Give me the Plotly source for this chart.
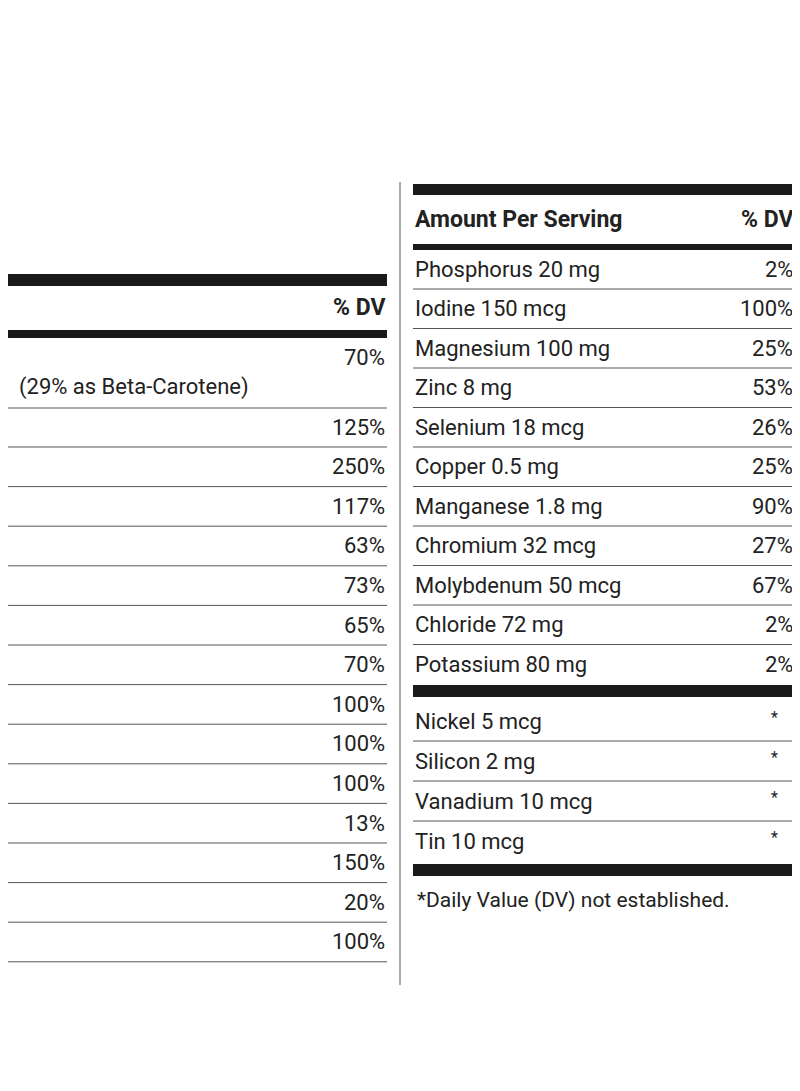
import plotly.graph_objects as go

left_names = ["Vitamin C 75 mg","Vitamin D 1,000 IU","Vitamin E 35 IU","Vitamin K 50 mcg",
              "Thiamin 1.1 mg","Riboflavin 1.1 mg","Niacin 14 mg","Vitamin B<sub>6</sub> 2 mg",
              "Folic Acid 400 mcg","Vitamin B<sub>12</sub> 6 mcg","Biotin 40 mcg",
              "Pantothenic Acid 15 mg","Calcium 200 mg","Iron 18 mg"]
left_dv = ["125%","250%","117%","63%","73%","65%","70%","100%","100%","100%","13%","150%","20%","100%"]
right_names = ["Phosphorus 20 mg","Iodine 150 mcg","Magnesium 100 mg","Zinc 8 mg","Selenium 18 mcg",
               "Copper 0.5 mg","Manganese 1.8 mg","Chromium 32 mcg","Molybdenum 50 mcg",
               "Chloride 72 mg","Potassium 80 mg"]
right_dv = ["2%","100%","25%","53%","26%","25%","90%","27%","67%","2%","2%"]
star_names = ["Nickel 5 mcg","Silicon 2 mg","Vanadium 10 mcg","Tin 10 mcg"]

FONT = "Roboto, Liberation Sans, Arial"
fig = go.Figure()
shapes, ann = [], []

def text(x, y, s, size=22, anchor="left", bold=False, family=FONT):
    ann.append(dict(x=x, y=y, xref="x", yref="y", text=f"<b>{s}</b>" if bold else s,
                    showarrow=False, xanchor=anchor, yanchor="middle",
                    font=dict(family=family, size=size, color="#222")))

def bar(x0, x1, y0, y1):
    shapes.append(dict(type="rect", x0=x0, x1=x1, y0=y0, y1=y1, xref="x", yref="y",
                       fillcolor="#1a1a1a", line_width=0))

def line(x0, x1, y):
    shapes.append(dict(type="line", x0=x0, x1=x1, y0=y, y1=y, xref="x", yref="y",
                       line=dict(color="#555", width=1)))

LX0, LX1 = 5, 387
RX0, RX1 = 413, 795
# Left column
text(LX0, 201, "Supplement Facts", size=40, bold=True, family="Liberation Sans, Arial")
text(LX0, 248, "Serving Size 1 Tablet", size=23)
bar(LX0, LX1, 274, 286)
text(LX0, 307, "Amount Per Serving", size=23, bold=True)
text(LX1, 307, "% DV", size=23, bold=True, anchor="right")
bar(LX0, LX1, 330, 338)
text(LX0, 357, "Vitamin A 3,500 IU")
text(LX1, 357, "70%", anchor="right")
text(LX0 + 12, 387, "(29% as Beta-Carotene)")
line(LX0, LX1, 408)
for i, (n, d) in enumerate(zip(left_names, left_dv)):
    y = 427 + i * 39.6
    text(LX0, y, n)
    text(LX1, y, d, anchor="right")
    line(LX0, LX1, y + 20)

# Divider
shapes.append(dict(type="line", x0=400, x1=400, y0=182, y1=985, xref="x", yref="y",
                   line=dict(color="#555", width=1)))

# Right column
bar(RX0, RX1, 184, 195)
text(RX0, 219, "Amount Per Serving", size=23, bold=True)
text(RX1, 219, "% DV", size=23, bold=True, anchor="right")
bar(RX0, RX1, 244, 250)
for i, (n, d) in enumerate(zip(right_names, right_dv)):
    y = 269 + i * 39.5
    text(RX0, y, n)
    text(RX1, y, d, anchor="right")
    if i < len(right_names) - 1:
        line(RX0, RX1, y + 20)
bar(RX0, RX1, 685, 697)
for i, n in enumerate(star_names):
    y = 721 + i * 40
    text(RX0, y, n)
    text(RX1 - 15, y - 4, "*", size=16, anchor="right")
    if i < len(star_names) - 1:
        line(RX0, RX1, y + 20)
bar(RX0, RX1, 864, 876)
text(RX0 + 2, 900, "*Daily Value (DV) not established.", size=21)

# page body adds an 8px offset; shift the ranges to compensate
fig.update_layout(width=800, height=1091, margin=dict(l=0, r=0, t=0, b=0),
                  paper_bgcolor="white", plot_bgcolor="white",
                  shapes=shapes, annotations=ann, showlegend=False,
                  xaxis=dict(range=[8, 808], visible=False, fixedrange=True),
                  yaxis=dict(range=[1099, 8], visible=False, fixedrange=True))
fig.write_html("out.html")
